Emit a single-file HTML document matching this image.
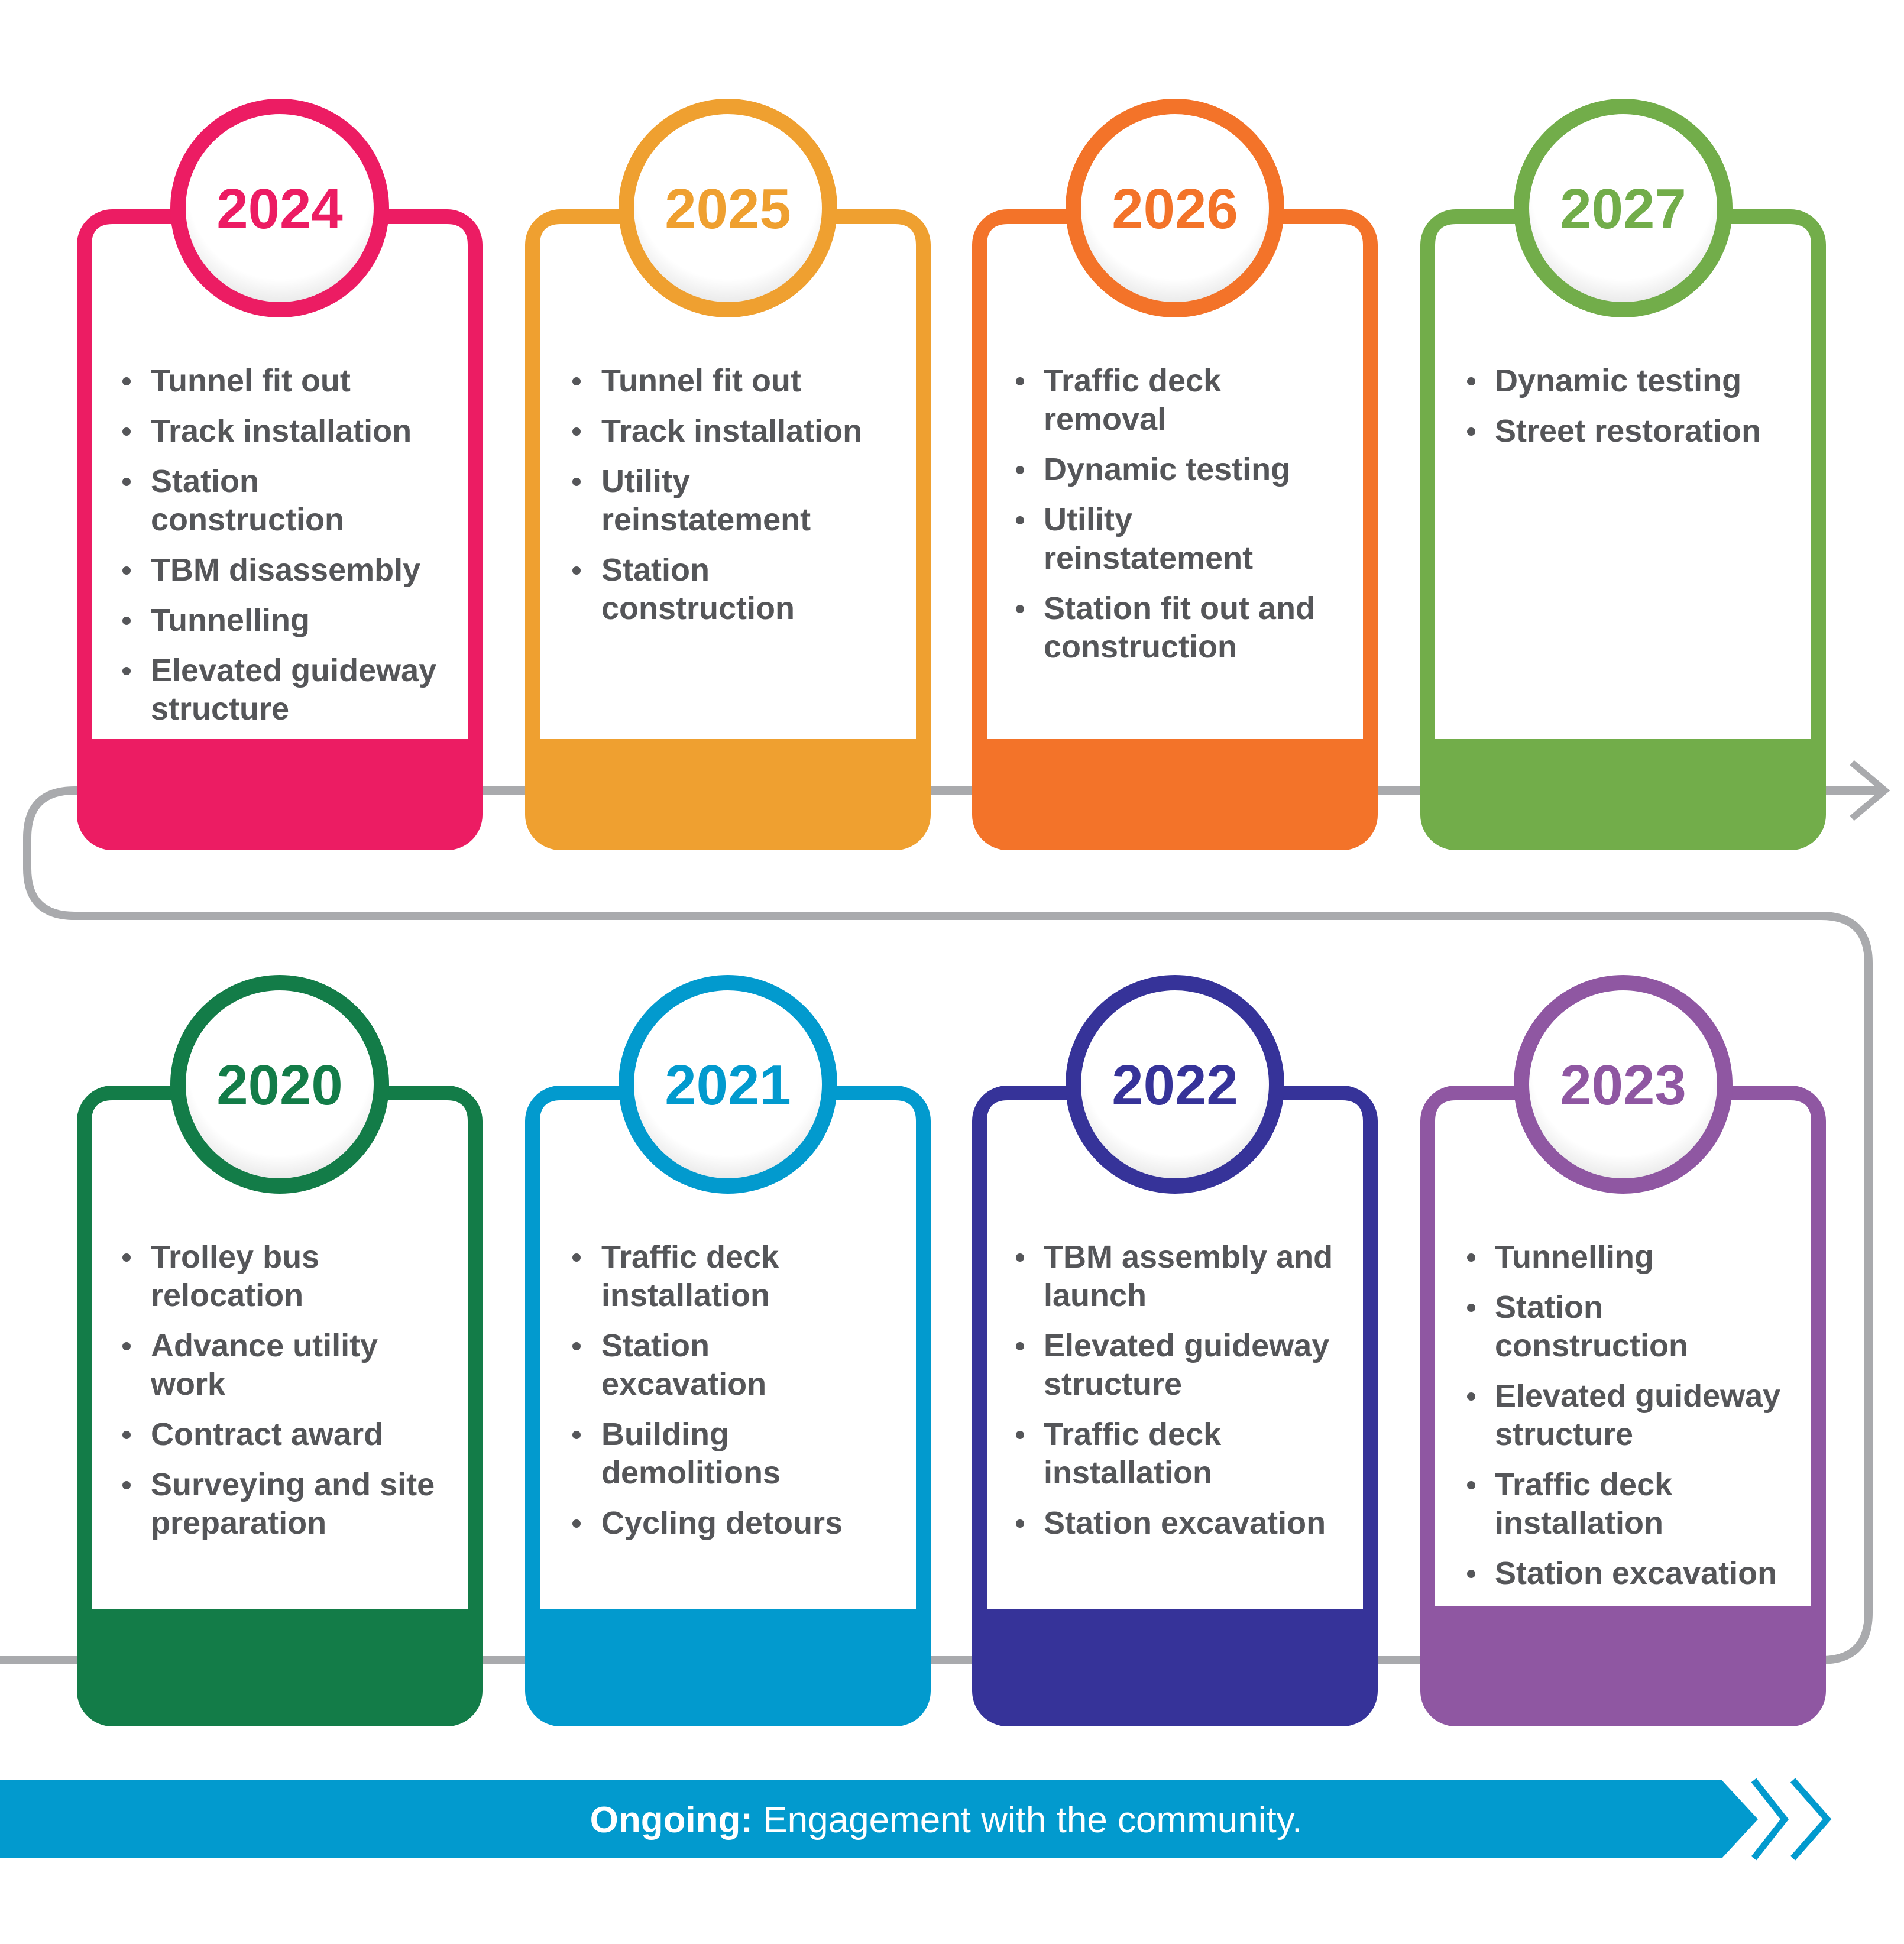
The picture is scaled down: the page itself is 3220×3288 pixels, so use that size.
<!DOCTYPE html>
<html><head><meta charset="utf-8"><style>
html,body{margin:0;padding:0;background:#fff;}
svg{display:block;}
.t{font-family:"Liberation Sans",sans-serif;font-weight:bold;font-size:54px;fill:#555659;}
.y{font-family:"Liberation Sans",sans-serif;font-weight:bold;font-size:96px;text-anchor:middle;}
</style></head><body>
<svg width="3220" height="3288" viewBox="0 0 3220 3288" xmlns="http://www.w3.org/2000/svg">
<defs>
<radialGradient id="g" cx="50%" cy="40%" r="60%">
<stop offset="0.75" stop-color="#ffffff"/><stop offset="1" stop-color="#e4e4e4"/>
</radialGradient>
</defs>
<path d="M3188 1337 H126 Q46 1337 46 1417 V1469 Q46 1549 126 1549 H3080 Q3160 1549 3160 1629 V2728 Q3160 2808 3080 2808 H0" fill="none" stroke="#A9AAAD" stroke-width="14"/>
<polyline points="3132,1290 3188,1337 3132,1384" fill="none" stroke="#A9AAAD" stroke-width="11"/>

<g>
<rect x="130" y="354" width="686" height="1084" rx="60" fill="#EC1C63"/>
<path d="M155 1250 V414 Q155 379 190 379 H756 Q791 379 791 414 V1250 Z" fill="#fff"/>
<circle cx="473" cy="352" r="172" fill="url(#g)" stroke="#EC1C63" stroke-width="26"/>
<text class="y" x="473" y="386" fill="#EC1C63">2024</text>
</g>
<g>
<rect x="888" y="354" width="686" height="1084" rx="60" fill="#EFA030"/>
<path d="M913 1250 V414 Q913 379 948 379 H1514 Q1549 379 1549 414 V1250 Z" fill="#fff"/>
<circle cx="1231" cy="352" r="172" fill="url(#g)" stroke="#EFA030" stroke-width="26"/>
<text class="y" x="1231" y="386" fill="#EFA030">2025</text>
</g>
<g>
<rect x="1644" y="354" width="686" height="1084" rx="60" fill="#F37329"/>
<path d="M1669 1250 V414 Q1669 379 1704 379 H2270 Q2305 379 2305 414 V1250 Z" fill="#fff"/>
<circle cx="1987" cy="352" r="172" fill="url(#g)" stroke="#F37329" stroke-width="26"/>
<text class="y" x="1987" y="386" fill="#F37329">2026</text>
</g>
<g>
<rect x="2402" y="354" width="686" height="1084" rx="60" fill="#72AD4A"/>
<path d="M2427 1250 V414 Q2427 379 2462 379 H3028 Q3063 379 3063 414 V1250 Z" fill="#fff"/>
<circle cx="2745" cy="352" r="172" fill="url(#g)" stroke="#72AD4A" stroke-width="26"/>
<text class="y" x="2745" y="386" fill="#72AD4A">2027</text>
</g>
<g>
<rect x="130" y="1836" width="686" height="1084" rx="60" fill="#137C48"/>
<path d="M155 2722 V1896 Q155 1861 190 1861 H756 Q791 1861 791 1896 V2722 Z" fill="#fff"/>
<circle cx="473" cy="1834" r="172" fill="url(#g)" stroke="#137C48" stroke-width="26"/>
<text class="y" x="473" y="1868" fill="#137C48">2020</text>
</g>
<g>
<rect x="888" y="1836" width="686" height="1084" rx="60" fill="#029ACE"/>
<path d="M913 2722 V1896 Q913 1861 948 1861 H1514 Q1549 1861 1549 1896 V2722 Z" fill="#fff"/>
<circle cx="1231" cy="1834" r="172" fill="url(#g)" stroke="#029ACE" stroke-width="26"/>
<text class="y" x="1231" y="1868" fill="#029ACE">2021</text>
</g>
<g>
<rect x="1644" y="1836" width="686" height="1084" rx="60" fill="#363399"/>
<path d="M1669 2722 V1896 Q1669 1861 1704 1861 H2270 Q2305 1861 2305 1896 V2722 Z" fill="#fff"/>
<circle cx="1987" cy="1834" r="172" fill="url(#g)" stroke="#363399" stroke-width="26"/>
<text class="y" x="1987" y="1868" fill="#363399">2022</text>
</g>
<g>
<rect x="2402" y="1836" width="686" height="1084" rx="60" fill="#8F57A2"/>
<path d="M2427 2716 V1896 Q2427 1861 2462 1861 H3028 Q3063 1861 3063 1896 V2716 Z" fill="#fff"/>
<circle cx="2745" cy="1834" r="172" fill="url(#g)" stroke="#8F57A2" stroke-width="26"/>
<text class="y" x="2745" y="1868" fill="#8F57A2">2023</text>
</g>

<g fill="#555659">
<circle cx="214" cy="645" r="7"/><text class="t" x="255" y="662">Tunnel fit out</text>
<circle cx="214" cy="730" r="7"/><text class="t" x="255" y="747">Track installation</text>
<circle cx="214" cy="815" r="7"/><text class="t" x="255" y="832">Station</text><text class="t" x="255" y="897">construction</text>
<circle cx="214" cy="965" r="7"/><text class="t" x="255" y="982">TBM disassembly</text>
<circle cx="214" cy="1050" r="7"/><text class="t" x="255" y="1067">Tunnelling</text>
<circle cx="214" cy="1135" r="7"/><text class="t" x="255" y="1152">Elevated guideway</text><text class="t" x="255" y="1217">structure</text>

<circle cx="975" cy="645" r="7"/><text class="t" x="1017" y="662">Tunnel fit out</text>
<circle cx="975" cy="730" r="7"/><text class="t" x="1017" y="747">Track installation</text>
<circle cx="975" cy="815" r="7"/><text class="t" x="1017" y="832">Utility</text><text class="t" x="1017" y="897">reinstatement</text>
<circle cx="975" cy="965" r="7"/><text class="t" x="1017" y="982">Station</text><text class="t" x="1017" y="1047">construction</text>

<circle cx="1725" cy="645" r="7"/><text class="t" x="1765" y="662">Traffic deck</text><text class="t" x="1765" y="727">removal</text>
<circle cx="1725" cy="795" r="7"/><text class="t" x="1765" y="812">Dynamic testing</text>
<circle cx="1725" cy="880" r="7"/><text class="t" x="1765" y="897">Utility</text><text class="t" x="1765" y="962">reinstatement</text>
<circle cx="1725" cy="1030" r="7"/><text class="t" x="1765" y="1047">Station fit out and</text><text class="t" x="1765" y="1112">construction</text>

<circle cx="2488" cy="645" r="7"/><text class="t" x="2528" y="662">Dynamic testing</text>
<circle cx="2488" cy="730" r="7"/><text class="t" x="2528" y="747">Street restoration</text>

<circle cx="214" cy="2127" r="7"/><text class="t" x="255" y="2144">Trolley bus</text><text class="t" x="255" y="2209">relocation</text>
<circle cx="214" cy="2277" r="7"/><text class="t" x="255" y="2294">Advance utility</text><text class="t" x="255" y="2359">work</text>
<circle cx="214" cy="2427" r="7"/><text class="t" x="255" y="2444">Contract award</text>
<circle cx="214" cy="2512" r="7"/><text class="t" x="255" y="2529">Surveying and site</text><text class="t" x="255" y="2594">preparation</text>

<circle cx="975" cy="2127" r="7"/><text class="t" x="1017" y="2144">Traffic deck</text><text class="t" x="1017" y="2209">installation</text>
<circle cx="975" cy="2277" r="7"/><text class="t" x="1017" y="2294">Station</text><text class="t" x="1017" y="2359">excavation</text>
<circle cx="975" cy="2427" r="7"/><text class="t" x="1017" y="2444">Building</text><text class="t" x="1017" y="2509">demolitions</text>
<circle cx="975" cy="2577" r="7"/><text class="t" x="1017" y="2594">Cycling detours</text>

<circle cx="1725" cy="2127" r="7"/><text class="t" x="1765" y="2144">TBM assembly and</text><text class="t" x="1765" y="2209">launch</text>
<circle cx="1725" cy="2277" r="7"/><text class="t" x="1765" y="2294">Elevated guideway</text><text class="t" x="1765" y="2359">structure</text>
<circle cx="1725" cy="2427" r="7"/><text class="t" x="1765" y="2444">Traffic deck</text><text class="t" x="1765" y="2509">installation</text>
<circle cx="1725" cy="2577" r="7"/><text class="t" x="1765" y="2594">Station excavation</text>

<circle cx="2488" cy="2127" r="7"/><text class="t" x="2528" y="2144">Tunnelling</text>
<circle cx="2488" cy="2212" r="7"/><text class="t" x="2528" y="2229">Station</text><text class="t" x="2528" y="2294">construction</text>
<circle cx="2488" cy="2362" r="7"/><text class="t" x="2528" y="2379">Elevated guideway</text><text class="t" x="2528" y="2444">structure</text>
<circle cx="2488" cy="2512" r="7"/><text class="t" x="2528" y="2529">Traffic deck</text><text class="t" x="2528" y="2594">installation</text>
<circle cx="2488" cy="2662" r="7"/><text class="t" x="2528" y="2679">Station excavation</text>
</g>

<polygon points="0,3011 2912,3011 2973,3077 2912,3143 0,3143" fill="#029ACE"/>
<polyline points="2966,3011 3018,3077 2966,3143" fill="none" stroke="#029ACE" stroke-width="11"/>
<polyline points="3032,3011 3090,3077 3032,3143" fill="none" stroke="#029ACE" stroke-width="11"/>
<text x="1600" y="3099" text-anchor="middle" font-family="Liberation Sans, sans-serif" font-size="62" fill="#fff"><tspan font-weight="bold">Ongoing:</tspan> Engagement with the community.</text>
</svg>
</body></html>
